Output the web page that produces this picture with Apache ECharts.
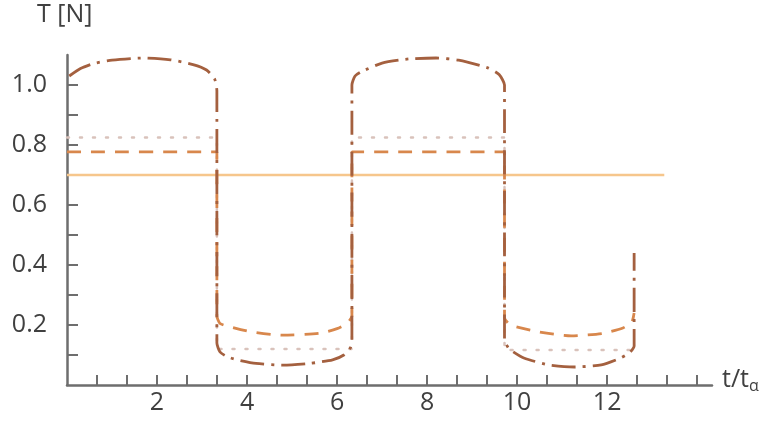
<!DOCTYPE html>
<html>
<head>
<meta charset="utf-8">
<title>T [N] over t/tα</title>
<script src="https://cdn.jsdelivr.net/npm/echarts@6/dist/echarts.min.js"></script>
<style>
  html, body { margin: 0; padding: 0; background: #ffffff; }
  #chart { width: 768px; height: 423px; }
</style>
</head>
<body>
<div id="chart"></div>
<script>
// Tension traces, [t/tα, T in N]
const reference = [[0, 0.70], [13.27, 0.70]];

const dotted = [
  [0, 0.825], [3.33, 0.825], [3.33, 0.12], [6.33, 0.12],
  [6.33, 0.825], [9.72, 0.825], [9.72, 0.117], [12.6, 0.117]
];

const dashed = [
  [0, 0.777], [3.33, 0.777], [3.33, 0.23], [3.4, 0.205], [3.6, 0.195],
  [4.1, 0.177], [4.8, 0.166], [5.6, 0.172], [6.0, 0.188], [6.22, 0.205],
  [6.33, 0.23], [6.33, 0.777], [9.72, 0.777], [9.72, 0.225], [9.85, 0.2],
  [10.45, 0.178], [11.2, 0.164], [11.9, 0.172], [12.35, 0.19], [12.55, 0.21],
  [12.6, 0.24]
];

const dashDot = [
  [0.05, 1.03], [0.3, 1.055], [0.6, 1.072], [1.0, 1.083], [1.7, 1.09],
  [2.3, 1.084], [2.8, 1.068], [3.1, 1.05], [3.28, 1.02], [3.33, 0.98],
  [3.33, 0.14], [3.4, 0.11], [3.55, 0.095], [3.75, 0.085], [4.2, 0.072],
  [4.8, 0.066], [5.4, 0.072], [5.9, 0.084], [6.15, 0.1], [6.3, 0.125],
  [6.33, 0.15], [6.33, 1.0], [6.4, 1.03], [6.55, 1.045], [7.0, 1.073],
  [7.6, 1.087], [8.2, 1.09], [8.7, 1.083], [9.35, 1.057], [9.6, 1.035],
  [9.72, 1.0], [9.72, 0.15], [9.8, 0.125], [9.9, 0.112], [10.15, 0.09],
  [10.7, 0.067], [11.27, 0.06], [11.87, 0.067], [12.3, 0.09], [12.5, 0.108],
  [12.6, 0.13], [12.6, 0.44]
];

// Axis labels
const xLabels = [2, 4, 6, 8, 10, 12];
const yLabels = [0.2, 0.4, 0.6, 0.8, 1.0];

// Tick marks: x every 2/3, y every 0.1
const xTicks = [];
for (let k = 1; k <= 21; k++) xTicks.push(k * 2 / 3);
const yTicks = [];
for (let k = 1; k <= 10; k++) yTicks.push(+(k / 10).toFixed(1));

const axisGrey = '#6e6e6e';
const textColor = '#404040';
const labelFont = { fontFamily: 'Open Sans', fontSize: 25, color: textColor };

const chart = echarts.init(document.getElementById('chart'), null, { renderer: 'canvas' });

chart.setOption({
  animation: false,
  backgroundColor: '#ffffff',
  grid: { left: 67, right: 56, top: 55, bottom: 38, containLabel: false },
  xAxis: {
    type: 'value',
    min: 0,
    max: 14.33,
    splitLine: { show: false },
    axisLine: { show: true, lineStyle: { color: axisGrey, width: 2.5 } },
    axisTick: {
      show: true, inside: true, length: 10, customValues: xTicks,
      lineStyle: { color: axisGrey, width: 2 }
    },
    axisLabel: {
      show: true, customValues: xLabels, margin: 5,
      formatter: v => String(Math.round(v)),
      ...labelFont
    }
  },
  yAxis: {
    type: 'value',
    min: 0,
    max: 1.1,
    splitLine: { show: false },
    axisLine: { show: true, lineStyle: { color: axisGrey, width: 2.5 } },
    axisTick: {
      show: true, inside: true, length: 11, customValues: yTicks,
      lineStyle: { color: axisGrey, width: 2 }
    },
    axisLabel: {
      show: true, customValues: yLabels, margin: 20,
      formatter: v => v.toFixed(1),
      ...labelFont
    }
  },
  graphic: [
    {
      type: 'text', left: 37, top: 2,
      style: { text: 'T [N]', font: '25px "Open Sans"', fill: textColor }
    },
    {
      type: 'text', left: 722, top: 367,
      style: {
        text: 't/t{sub|α}',
        font: '25px "Open Sans"', fill: textColor,
        rich: { sub: { fontSize: 16, fontFamily: 'Open Sans', fill: textColor, padding: [14, 0, 0, 0] } }
      }
    }
  ],
  series: [
    {
      type: 'line', data: reference, showSymbol: false, z: 2,
      lineStyle: { color: '#f6c68c', width: 2.5, type: 'solid' }
    },
    {
      type: 'line', data: dotted, showSymbol: false, z: 3,
      lineStyle: { color: '#d9c2bb', width: 2.5, type: [2, 11], cap: 'round' }
    },
    {
      type: 'line', data: dashed, showSymbol: false, z: 4, smooth: 0.2,
      lineStyle: { color: '#d8874c', width: 2.8, type: [14, 10] }
    },
    {
      type: 'line', data: dashDot, showSymbol: false, z: 5, smooth: 0.2,
      lineStyle: { color: '#a4603f', width: 2.8, type: [24, 7, 3, 7] }
    }
  ]
});
</script>
</body>
</html>
